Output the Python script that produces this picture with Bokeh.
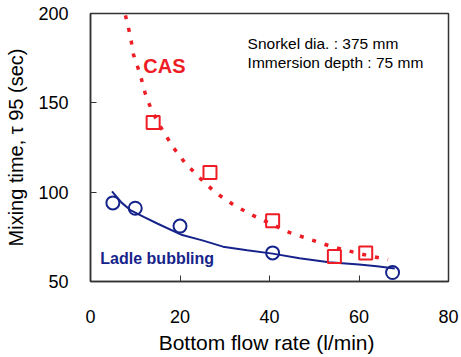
from bokeh.plotting import figure
from bokeh.models import Range1d, FixedTicker, Label
from bokeh.embed import file_html
from bokeh.resources import INLINE

# Measured points
cas_flow = [14, 26.7, 40.7, 54.5, 61.5]
cas_time = [139, 111, 84, 64, 66]
ladle_flow = [5, 10, 20, 40.7, 67.5]
ladle_time = [94, 91, 81, 66, 55]

# Fitted curves
cas_fit_flow = [7.8, 8.9, 9.6, 11.1, 12.2, 13.7, 15.9, 18.5, 21.1, 24.4, 27.8,
                32.2, 36.3, 40.5, 44.4, 48.9, 53.3, 57.4, 62, 66.5]
cas_fit_time = [199, 187.5, 177, 166, 155.5, 145.5, 135.5, 125, 116.5, 108, 100,
                92.5, 87, 82, 77.5, 73.7, 70, 67.3, 64.5, 62.3]
ladle_fit_flow = [4.8, 7, 8.9, 12, 14.8, 20.5, 25, 29.6, 35, 40.7, 46.7, 53.3,
                  60, 64, 68]
ladle_fit_time = [100.5, 94, 90, 86, 82.6, 76, 73, 69.5, 67.5, 65.6, 63, 60.8,
                  59.5, 58.6, 57.3]

x_ticks = [0, 20, 40, 60, 80]
y_ticks = [50, 100, 150, 200]

RED = "#ee1c25"
NAVY = "#16238a"
FONT = "Liberation Sans"

p = figure(width=461, height=357, output_backend="svg", toolbar_location=None,
           x_range=Range1d(0, 80), y_range=Range1d(50, 200),
           min_border_left=90, min_border_right=13, min_border_top=13,
           min_border_bottom=76)

p.xgrid.visible = False
p.ygrid.visible = False
p.outline_line_color = "#333333"
p.outline_line_width = 1.5
p.background_fill_color = "white"
p.border_fill_color = "white"

for ax in (p.xaxis[0], p.yaxis[0]):
    ax.major_tick_in = 6
    ax.major_tick_out = 0
    ax.minor_tick_in = 0
    ax.minor_tick_out = 0
    ax.axis_line_color = "#333333"
    ax.axis_line_width = 1.5
    ax.major_tick_line_color = "#333333"
    ax.major_label_text_font = FONT
    ax.major_label_text_font_size = "18px"
    ax.major_label_text_color = "black"
    ax.axis_label_text_font = FONT
    ax.axis_label_text_font_style = "normal"
    ax.axis_label_text_color = "black"

p.xaxis.ticker = FixedTicker(ticks=x_ticks)
p.yaxis.ticker = FixedTicker(ticks=y_ticks)
p.xaxis.major_label_standoff = 28
p.yaxis.major_label_standoff = 22

p.xaxis.axis_label = "Bottom flow rate  (l/min)"
p.xaxis.axis_label_text_font_size = "21px"
p.xaxis.axis_label_standoff = 5
p.yaxis.axis_label = "Mixing time, τ 95 (sec)"
p.yaxis.axis_label_text_font_size = "20px"
p.yaxis.axis_label_standoff = 8

# Curves
p.line(cas_fit_flow, cas_fit_time, line_color=RED, line_width=3.5,
       line_dash="4 9")
p.line(ladle_fit_flow, ladle_fit_time, line_color=NAVY, line_width=2)

# Points
p.scatter(cas_flow, cas_time, marker="square", size=13, fill_color=None,
          line_color=RED, line_width=2)
p.scatter(ladle_flow, ladle_time, marker="circle", size=13, fill_color=None,
          line_color=NAVY, line_width=2)

# Texts
p.add_layout(Label(x=11.8, y=170.7, text="CAS", text_color=RED,
                   text_font=FONT, text_font_style="bold",
                   text_font_size="20px", text_baseline="middle"))
p.add_layout(Label(x=2.2, y=62.8, text="Ladle bubbling", text_color=NAVY,
                   text_font=FONT, text_font_style="bold",
                   text_font_size="16px", text_baseline="middle"))
p.add_layout(Label(x=35.1, y=183, text="Snorkel dia. : 375 mm",
                   text_color="black", text_font=FONT,
                   text_font_size="15.5px", text_baseline="middle"))
p.add_layout(Label(x=35.1, y=172.3, text="Immersion depth : 75 mm",
                   text_color="black", text_font=FONT,
                   text_font_size="15.5px", text_baseline="middle"))

open("out.html", "w").write(file_html(p, INLINE))
